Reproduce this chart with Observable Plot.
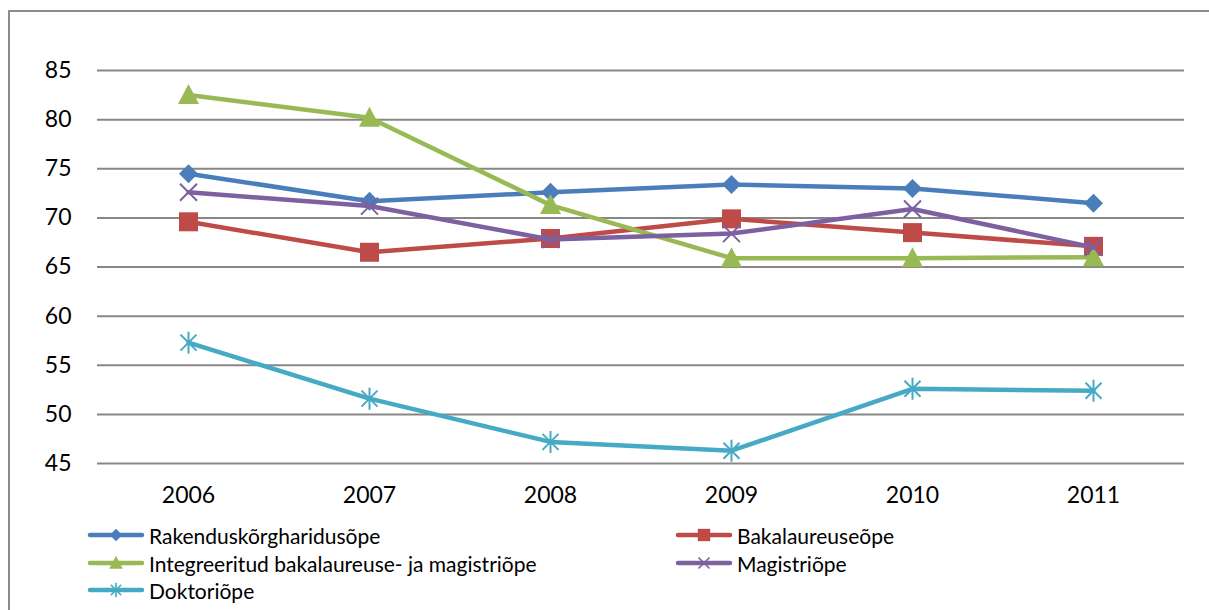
<!DOCTYPE html>
<html>
<head>
<meta charset="utf-8">
<script src="https://cdn.jsdelivr.net/npm/d3@7"></script>
<script src="https://cdn.jsdelivr.net/npm/@observablehq/plot@0.6"></script>
<style>
  html, body { margin: 0; padding: 0; background: #fff; overflow: hidden; }
  #wrap { position: relative; width: 1209px; height: 610px; font-family: Lato, "Open Sans", sans-serif; }
  #frame { position: absolute; left: 8px; top: 10px; right: -10px; bottom: -10px;
           border-left: 2px solid #8c8c8c; border-top: 2px solid #8c8c8c; }
  #chart { position: absolute; left: 0; top: 0; }
  .lg { position: absolute; display: flex; align-items: center; font-size: 21px; color: #000; white-space: nowrap; }
  .lg svg { margin-right: 3px; }
</style>
</head>
<body>
<div id="wrap">
  <div id="frame"></div>
  <div id="chart"></div>
  <div id="legend"></div>
</div>
<script>
// ---- data ----
const years = ["2006", "2007", "2008", "2009", "2010", "2011"];
const seriesNames = [
  "Rakenduskõrgharidusõpe",
  "Bakalaureuseõpe",
  "Integreeritud bakalaureuse- ja magistriõpe",
  "Magistriõpe",
  "Doktoriõpe"
];
const rakendus      = [74.5, 71.7, 72.6, 73.4, 73.0, 71.5];
const bakalaureuse  = [69.6, 66.5, 67.9, 69.9, 68.5, 67.1];
const integreeritud = [82.5, 80.2, 71.3, 65.9, 65.9, 66.0];
const magistri      = [72.6, 71.2, 67.8, 68.4, 70.9, 67.0];
const doktori       = [57.3, 51.6, 47.2, 46.3, 52.6, 52.4];
const yTicks = [45, 50, 55, 60, 65, 70, 75, 80, 85];

const seriesValues = [rakendus, bakalaureuse, integreeritud, magistri, doktori];
const colors = ["#4a7ebb", "#be4b48", "#98b954", "#7d60a0", "#46aac5"];

// ---- custom marker shapes ----
function makeSymbols(k) {
  return [
    { draw(c) { const h = 9.5 * k; c.moveTo(0, -h); c.lineTo(h, 0); c.lineTo(0, h); c.lineTo(-h, 0); c.closePath(); } },
    { draw(c) { const h = 9.5 * k; c.rect(-h, -h, 2 * h, 2 * h); } },
    { draw(c) { c.moveTo(0, -11 * k); c.lineTo(10.5 * k, 9 * k); c.lineTo(-10.5 * k, 9 * k); c.closePath(); } },
    { draw(c) { const h = 8.5 * k; c.moveTo(-h, -h); c.lineTo(h, h); c.moveTo(h, -h); c.lineTo(-h, h); } },
    { draw(c) { const h = 8 * k, v = 11 * k; c.moveTo(-h, -h); c.lineTo(h, h); c.moveTo(h, -h); c.lineTo(-h, h); c.moveTo(0, -v); c.lineTo(0, v); } }
  ];
}
const filled = [true, true, true, false, false];
const symbols = makeSymbols(1);

const rows = [];
seriesNames.forEach((name, i) => {
  years.forEach((yr, j) => rows.push({ series: name, idx: i, year: yr, value: seriesValues[i][j] }));
});

const marks = [
  Plot.ruleY(yTicks, { stroke: "#878787", strokeWidth: 2 }),
  Plot.axisY(yTicks, { tickSize: 0, tickPadding: 26 }),
  Plot.axisX({ tickSize: 0, tickPadding: 23 })
];
seriesNames.forEach((name, i) => {
  const d = rows.filter(r => r.idx === i);
  marks.push(Plot.line(d, { x: "year", y: "value", stroke: colors[i], strokeWidth: 4.5, strokeLinejoin: "round", strokeLinecap: "round" }));
  if (filled[i]) {
    marks.push(Plot.dot(d, { x: "year", y: "value", symbol: symbols[i], r: 10, fill: colors[i], stroke: "none" }));
  } else {
    marks.push(Plot.dot(d, { x: "year", y: "value", symbol: symbols[i], r: 10, fill: "none", stroke: colors[i], strokeWidth: 2 }));
  }
});

const chart = Plot.plot({
  width: 1209,
  height: 510,
  marginTop: 70,
  marginBottom: 47,
  marginLeft: 97,
  marginRight: 25,
  style: { fontFamily: "Lato, 'Open Sans', sans-serif", fontSize: "23px", color: "#000", background: "transparent", overflow: "visible" },
  x: { type: "point", domain: years, padding: 0.5, label: null },
  y: { domain: [45, 85], label: null },
  marks
});
document.getElementById("chart").appendChild(chart);

// ---- legend ----
const legendPos = [
  { left: 86, top: 535 }, { left: 674, top: 535 },
  { left: 86, top: 563 }, { left: 674, top: 563 },
  { left: 86, top: 590 }
];
const small = makeSymbols(0.65);
const legend = document.getElementById("legend");
seriesNames.forEach((name, i) => {
  const div = document.createElement("div");
  div.className = "lg";
  div.style.left = legendPos[i].left + "px";
  div.style.top = (legendPos[i].top - 12) + "px";
  div.style.height = "24px";
  const ns = "http://www.w3.org/2000/svg";
  const svg = document.createElementNS(ns, "svg");
  svg.setAttribute("width", 60); svg.setAttribute("height", 24);
  const line = document.createElementNS(ns, "line");
  line.setAttribute("x1", 4); line.setAttribute("x2", 56);
  line.setAttribute("y1", 12); line.setAttribute("y2", 12);
  line.setAttribute("stroke", colors[i]); line.setAttribute("stroke-width", 4.5);
  line.setAttribute("stroke-linecap", "round");
  svg.appendChild(line);
  const p = d3.path(); small[i].draw(p);
  const path = document.createElementNS(ns, "path");
  path.setAttribute("d", p.toString());
  path.setAttribute("transform", "translate(30,12)");
  if (filled[i]) { path.setAttribute("fill", colors[i]); }
  else { path.setAttribute("fill", "none"); path.setAttribute("stroke", colors[i]); path.setAttribute("stroke-width", 1.6); }
  svg.appendChild(path);
  div.appendChild(svg);
  const span = document.createElement("span");
  span.textContent = name;
  div.appendChild(span);
  legend.appendChild(div);
});
</script>
</body>
</html>
